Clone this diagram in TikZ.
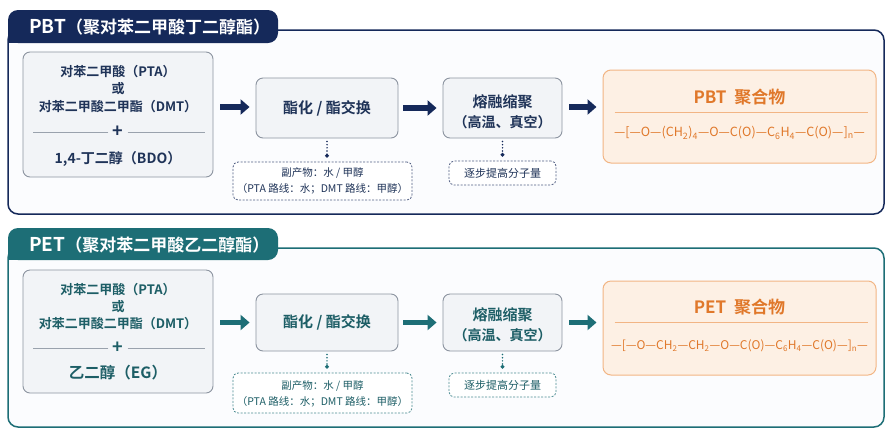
\documentclass[tikz,border=0pt]{standalone}
\usepackage{fontspec}
\setmainfont{Noto Sans CJK SC}[BoldFont={Noto Sans CJK SC Bold}]
\usetikzlibrary{arrows.meta}
\definecolor{navy}{HTML}{15295A}
\definecolor{navytxt}{HTML}{1F3358}
\definecolor{teal}{HTML}{1D6E76}
\definecolor{tealtxt}{HTML}{1D5E66}
\definecolor{boxfill}{HTML}{F2F4F7}
\definecolor{boxborder}{HTML}{8C94A0}
\definecolor{rulegray}{HTML}{9AA2AD}
\definecolor{orangetxt}{HTML}{E0782A}
\definecolor{orangeborder}{HTML}{F2B584}
\definecolor{orangefill}{HTML}{FDF0E4}
\definecolor{panelfill}{HTML}{FBFCFE}
\newcommand{\fsz}[1]{\fontsize{#1}{#1}\selectfont}
\begin{document}
\begin{tikzpicture}[x=1pt,y=-1pt,
  box/.style={draw=boxborder,fill=boxfill,rounded corners=7pt,line width=0.9pt,inner sep=0pt},
  polybox/.style={draw=orangeborder,fill=orangefill,rounded corners=8pt,line width=1pt,inner sep=0pt},
  dashbox/.style={draw=#1,fill=white,dashed,dash pattern=on 2pt off 1.5pt,rounded corners=5pt,line width=0.8pt,inner sep=0pt},
  txt/.style={inner sep=0pt,font=\bfseries\fsz{13}},
  btxt/.style={inner sep=0pt,font=\bfseries\fsz{15}},
  stxt/.style={inner sep=0pt,font=\fsz{10.5}},
  rule/.style={draw=rulegray,line width=0.7pt},
  flow/.style={line width=5.5pt,-{Triangle[length=9pt,width=15pt]},shorten <=7pt,shorten >=6pt},
  dotline/.style={line width=1.7pt,dash pattern=on 0pt off 3.2pt,line cap=round,-{Circle[length=3.6pt]},shorten <=3pt,shorten >=4pt},
  ]
\useasboundingbox (0,0) rectangle (890,445);
\fill[white] (0,0) rectangle (890,445);

% ================= PBT panel =================
\draw[navy,line width=1.5pt,fill=panelfill,rounded corners=10pt] (8,30) rectangle (884,214);
\fill[navy,rounded corners=10pt] (8,10) rectangle (278,43);
\fill[navy] (8,28) rectangle (20,43);
\node[anchor=west,text=white,inner sep=0pt,font=\bfseries\fsz{17}] (pbttitle) at (29,27) {{\fsz{19}PBT}（聚对苯二甲酸丁二醇酯）};

\node[box,minimum width=190pt,minimum height=125pt] (pbtin) at (118,114.5) {};
\node[txt,text=navytxt] (pbtin1) at (118,72) {对苯二甲酸（PTA）};
\node[txt,text=navytxt] (pbtin2) at (118,89) {或};
\node[txt,text=navytxt] (pbtin3) at (118,107) {对苯二甲酸二甲酯（DMT）};
\node[txt,text=navytxt,font=\bfseries\fsz{18},inner sep=4pt] (pbtplus) at (118,132) {+};
\node[txt,text=navytxt,font=\bfseries\fsz{14}] (pbtin4) at (118,159) {1,4-丁二醇（BDO）};
\draw[rule] (pbtplus.west) -- ([xshift=10pt]pbtin.west |- pbtplus.west);
\draw[rule] (pbtplus.east) -- ([xshift=-8pt]pbtin.east |- pbtplus.east);

\node[box,minimum width=142pt,minimum height=60pt] (pbtest) at (327,108) {};
\node[btxt,text=navytxt] (pbtestt) at (pbtest) {酯化 / 酯交换};

\node[box,minimum width=119pt,minimum height=60pt] (pbtmelt) at (502.5,108) {};
\node[btxt,text=navytxt] (pbtmelt1) at (502.5,102) {熔融缩聚};
\node[btxt,text=navytxt,font=\bfseries\fsz{14}] (pbtmelt2) at (502.5,122) {（高温、真空）};

\node[polybox,minimum width=273pt,minimum height=93pt] (pbtpoly) at (739.5,116.5) {};
\node[inner sep=0pt,text=orangetxt,font=\bfseries\fsz{17}] (pbtpolyt) at (739.5,97) {PBT\hspace{4pt} 聚合物};
\draw[orangeborder,line width=0.8pt] ([xshift=12pt]pbtpoly.west |- 0,112) coordinate (pbtrl) -- ([xshift=-9pt]pbtpoly.east |- 0,112) coordinate (pbtrr);
\node[inner sep=0pt,text=orangetxt,font=\fsz{12.6}] (pbtform) at (739.5,133) {—[—O—(CH\textsubscript{2})\textsubscript{4}—O—C(O)—C\textsubscript{6}H\textsubscript{4}—C(O)—]\textsubscript{n}—};

\node[dashbox=navy!75,minimum width=179pt,minimum height=38pt] (pbtbyp) at (322.5,181) {};
\node[stxt,text=navytxt] (pbtbyp1) at (322.5,173) {副产物：水 / 甲醇};
\node[stxt,text=navytxt] (pbtbyp2) at (322.5,189) {（PTA 路线：水；DMT 路线：甲醇）};

\node[dashbox=navy!75,minimum width=107pt,minimum height=24pt] (pbtmw) at (502.5,173) {};
\node[stxt,text=navytxt,font=\fsz{11}] (pbtmwt) at (pbtmw) {逐步提高分子量};

\draw[navy,flow] (pbtin.east |- pbtin3) -- (pbtest.west |- pbtin3);
\draw[navy,flow,shorten <=5pt] (pbtest.east) -- (pbtmelt.west);
\draw[navy,flow] (pbtmelt.east |- pbtin3) -- (pbtpoly.west |- pbtin3);
\draw[navy,dotline] (pbtest.south) -- (pbtest.south |- pbtbyp.north);
\draw[navy,dotline] (pbtmelt.south) -- (pbtmw.north);

% ================= PET panel =================
\draw[teal,line width=1.5pt,fill=panelfill,rounded corners=10pt] (8,248) rectangle (884,427);
\fill[teal,rounded corners=10pt] (8,228) rectangle (278,260);
\fill[teal] (8,246) rectangle (20,260);
\node[anchor=west,text=white,inner sep=0pt,font=\bfseries\fsz{17}] (pettitle) at (29,245) {{\fsz{19}PET}（聚对苯二甲酸乙二醇酯）};

\node[box,minimum width=190pt,minimum height=123pt] (petin) at (118,331.5) {};
\node[txt,text=tealtxt] (petin1) at (118,290) {对苯二甲酸（PTA）};
\node[txt,text=tealtxt] (petin2) at (118,307) {或};
\node[txt,text=tealtxt] (petin3) at (118,324) {对苯二甲酸二甲酯（DMT）};
\node[txt,text=tealtxt,font=\bfseries\fsz{18},inner sep=4pt] (petplus) at (118,348) {+};
\node[txt,text=tealtxt,font=\bfseries\fsz{15.5}] (petin4) at (118,373) {乙二醇（EG）};
\draw[rule] (petplus.west) -- ([xshift=10pt]petin.west |- petplus.west);
\draw[rule] (petplus.east) -- ([xshift=-8pt]petin.east |- petplus.east);

\node[box,minimum width=142pt,minimum height=57pt] (petest) at (327,322.5) {};
\node[btxt,text=tealtxt] (petestt) at (petest) {酯化 / 酯交换};

\node[box,minimum width=119pt,minimum height=57pt] (petmelt) at (502.5,322.5) {};
\node[btxt,text=tealtxt] (petmelt1) at (502.5,315) {熔融缩聚};
\node[btxt,text=tealtxt,font=\bfseries\fsz{14}] (petmelt2) at (502.5,335) {（高温、真空）};

\node[polybox,minimum width=273pt,minimum height=94pt] (petpoly) at (739.5,328) {};
\node[inner sep=0pt,text=orangetxt,font=\bfseries\fsz{17}] (petpolyt) at (739.5,307) {PET\hspace{4pt} 聚合物};
\draw[orangeborder,line width=0.8pt] ([xshift=12pt]petpoly.west |- 0,322) coordinate (petrl) -- ([xshift=-9pt]petpoly.east |- 0,322) coordinate (petrr);
\node[inner sep=0pt,text=orangetxt,font=\fsz{12}] (petform) at (739.5,346) {—[—O—CH\textsubscript{2}—CH\textsubscript{2}—O—C(O)—C\textsubscript{6}H\textsubscript{4}—C(O)—]\textsubscript{n}—};

\node[dashbox=teal!80,minimum width=179pt,minimum height=40pt] (petbyp) at (322.5,393) {};
\node[stxt,text=tealtxt] (petbyp1) at (322.5,386) {副产物：水 / 甲醇};
\node[stxt,text=tealtxt] (petbyp2) at (322.5,402) {（PTA 路线：水；DMT 路线：甲醇）};

\node[dashbox=teal!80,minimum width=107pt,minimum height=24pt] (petmw) at (502.5,385) {};
\node[stxt,text=tealtxt,font=\fsz{11}] (petmwt) at (petmw) {逐步提高分子量};

\draw[teal,flow] (petin.east |- petest) -- (petest.west);
\draw[teal,flow,shorten <=5pt] (petest.east) -- (petmelt.west);
\draw[teal,flow] (petmelt.east) -- (petpoly.west |- petmelt.east);
\draw[teal,dotline] (petest.south) -- (petest.south |- petbyp.north);
\draw[teal,dotline] (petmelt.south) -- (petmw.north);
\end{tikzpicture}
\end{document}
